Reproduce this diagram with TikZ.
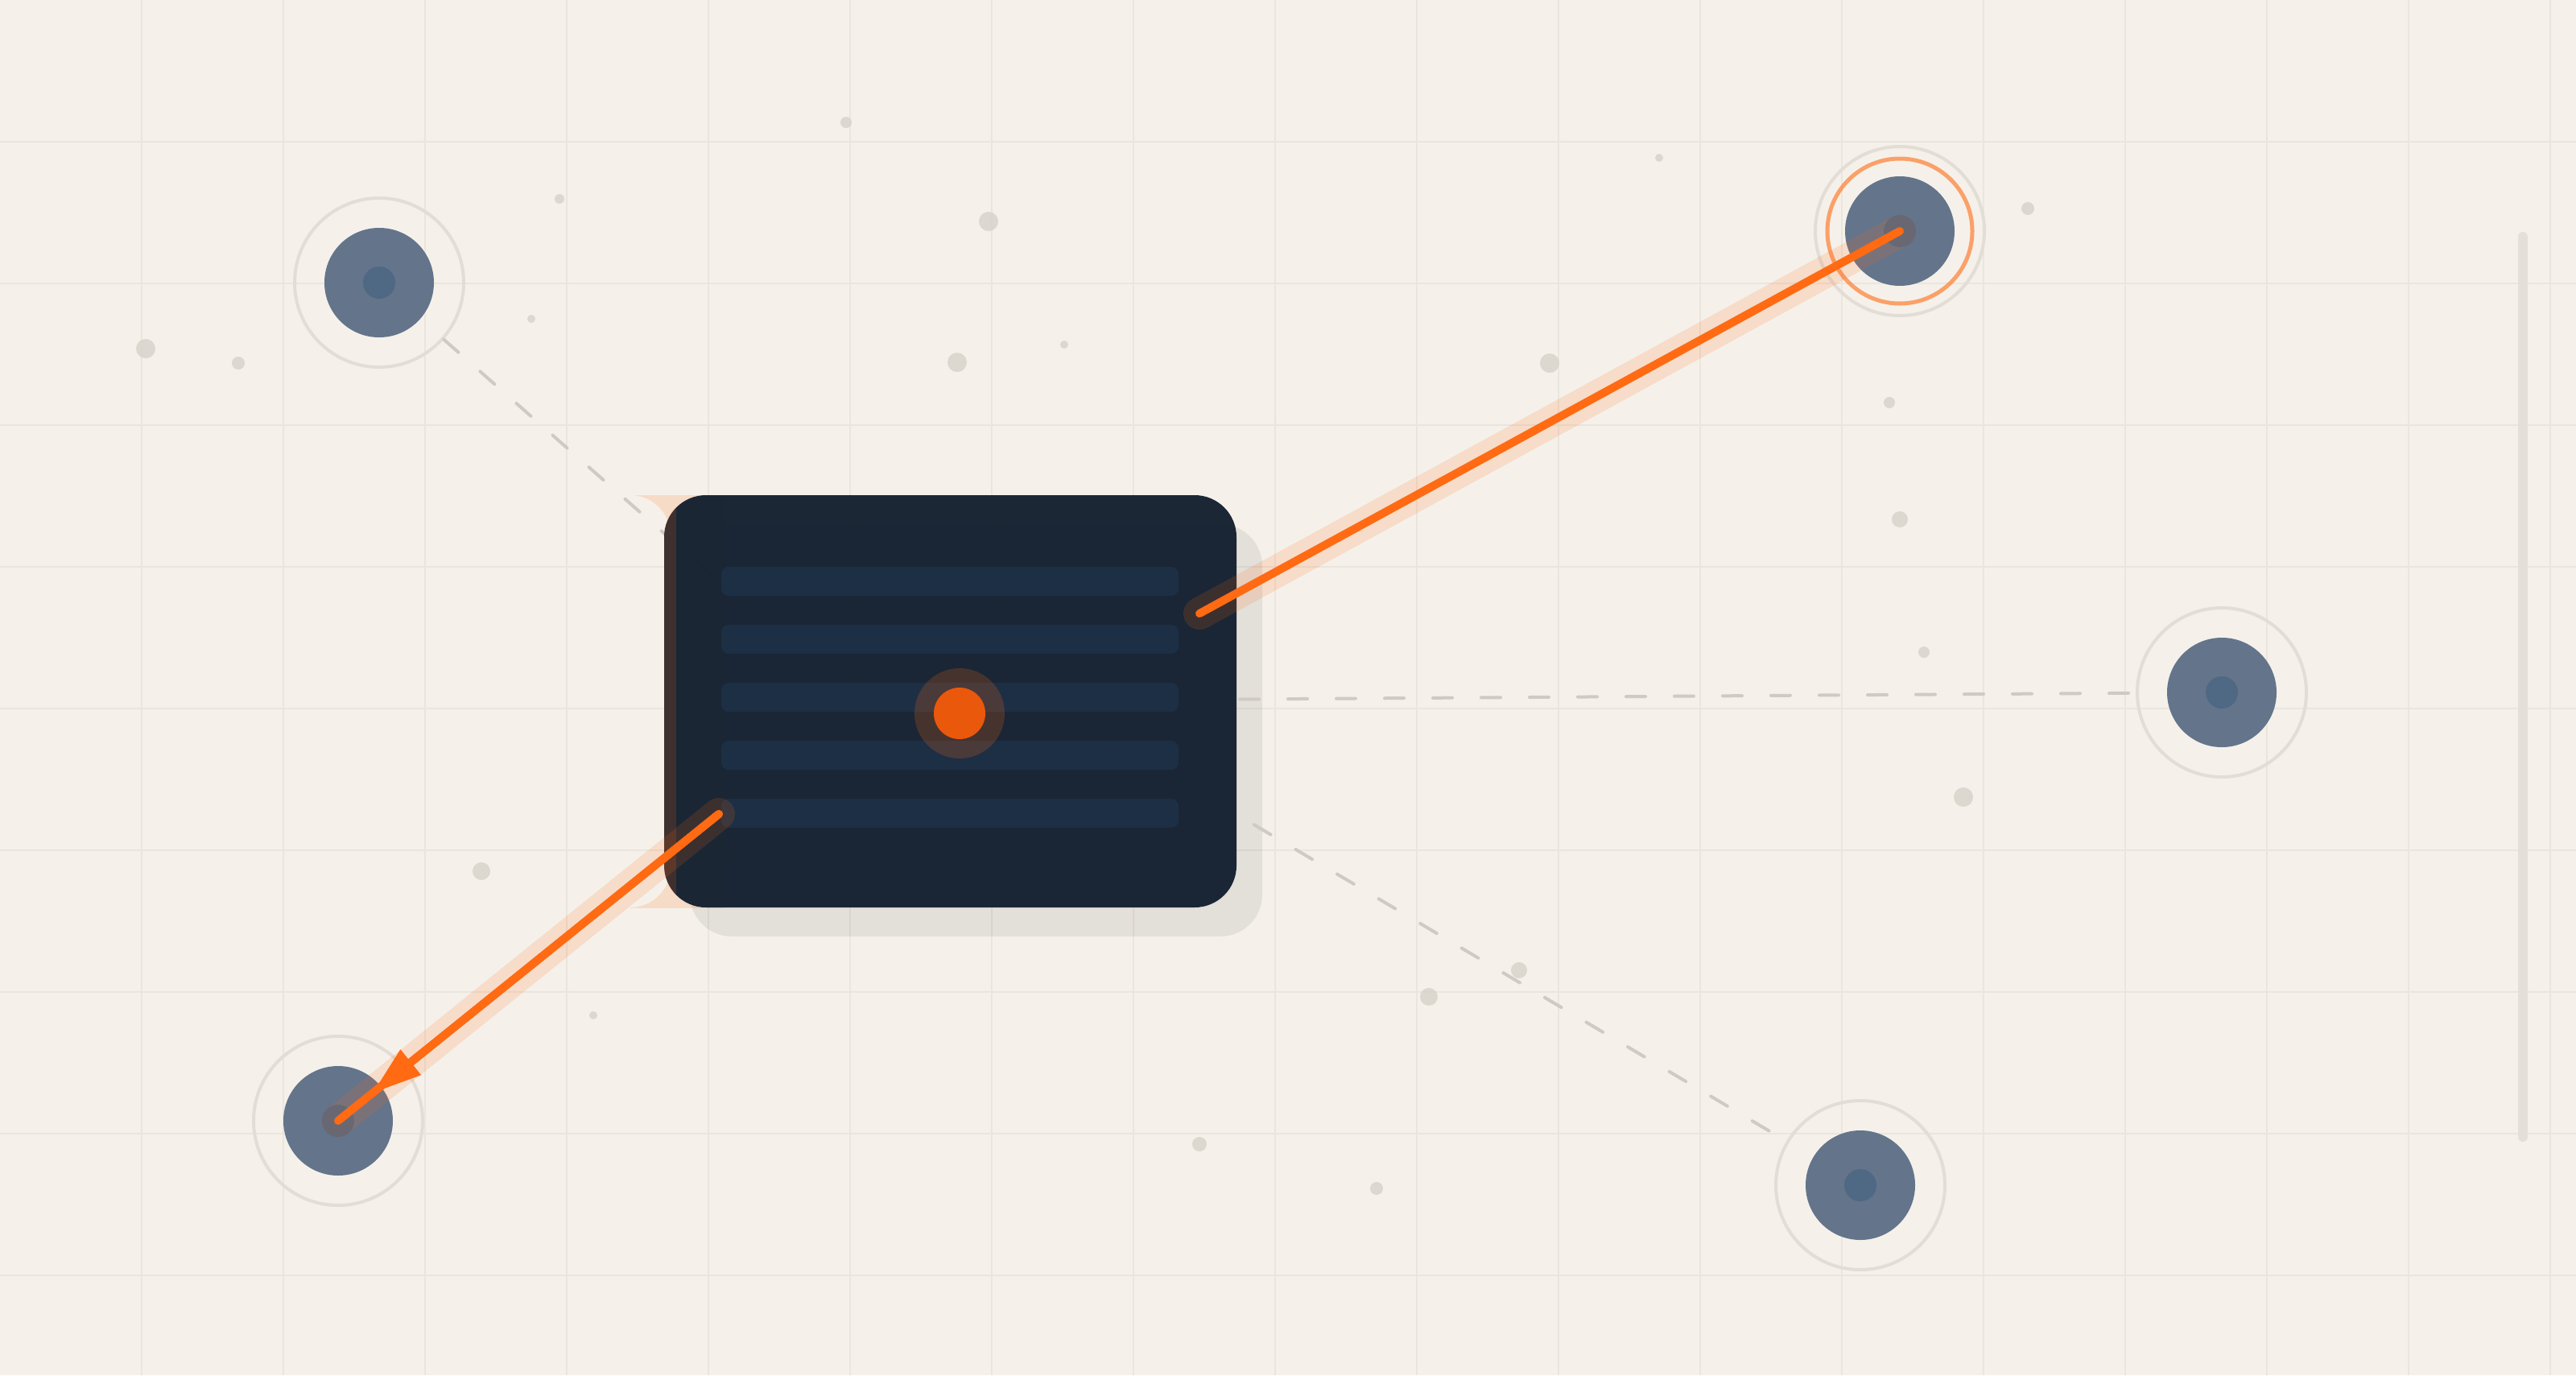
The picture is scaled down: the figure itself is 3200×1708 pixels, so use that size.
\documentclass[tikz,border=0pt]{standalone}
\usetikzlibrary{arrows.meta}

\definecolor{bgcol}{HTML}{F5F1EA}
\definecolor{gridcol}{HTML}{EAE5DD}
\definecolor{dotcol}{HTML}{D6D1C9}
\definecolor{ringcol}{HTML}{E2DDD5}
\definecolor{slate}{HTML}{64748B}
\definecolor{slatecore}{HTML}{4F6883}
\definecolor{cardcol}{HTML}{142130}
\definecolor{barcol}{HTML}{1D2F44}
\definecolor{accent}{HTML}{FF6A13}
\definecolor{hubcol}{HTML}{EA580C}
\definecolor{dashcol}{HTML}{CFCAC3}
\definecolor{sidecol}{HTML}{E4E0D9}

\tikzset{every picture/.style={line width=0.75pt}}
\tikzset{
  ringnode/.style={circle, draw=ringcol, line width=4pt, minimum size=210pt, inner sep=0pt},
  accentring/.style={draw=accent, draw opacity=0.6, line width=5pt},
  cardbox/.style={rectangle, rounded corners=52pt, fill=cardcol, fill opacity=0.97, minimum width=711pt, minimum height=512pt, inner sep=0pt},
  barline/.style={rectangle, rounded corners=9pt, fill=barcol, minimum width=568pt, minimum height=36pt, inner sep=0pt},
  dashline/.style={draw=dashcol, line width=4pt, line cap=round, dash pattern=on 24pt off 36pt},
  glowline/.style={draw=accent, draw opacity=0.15, line width=40pt, line cap=round},
  flowline/.style={draw=accent, line width=10pt, line cap=round},
  speck/.style={fill=dotcol, fill opacity=0.8},
}

\begin{document}
\begin{tikzpicture}[x=1pt,y=1pt,yscale=-1,xscale=1]

\fill [bgcol] (0,0) rectangle (3200,1708);
\useasboundingbox (0,0) rectangle (3200,1708);

\foreach \gx in {176,352,...,3168} \draw [gridcol, line width=2pt] (\gx,0) -- (\gx,1708);
\foreach \gy in {176,352,...,1584} \draw [gridcol, line width=2pt] (0,\gy) -- (3200,\gy);

\foreach \px/\py/\pr in {1051/152/7, 695/247/6, 1228/275/12, 181/433/12, 296/451/8, 660/396/5,
  1189/450/12, 1322/428/5, 2061/196/5, 1925/451/12, 2519/259/8, 2347/500/7, 2360/645/10,
  2390/810/7, 2439/990/12, 598/1082/11, 737/1261/5, 1887/1205/10, 1775/1238/11, 1490/1421/9, 1710/1476/8}
  \fill [speck] (\px,\py) circle (\pr);

\draw [sidecol, line width=12pt, line cap=round] (3134,294) -- (3134,1412);

\node [ringnode] (tl) at (471,351) {};
\node [ringnode] (tr) at (2360,287) {};
\node [ringnode] (rt) at (2760,860) {};
\node [ringnode] (bl) at (420,1392) {};
\node [ringnode] (br) at (2311,1472) {};
\draw [accentring] (tr.center) circle (90);
\foreach \n in {tl,tr,rt,bl,br} {
  \fill [slate] (\n.center) circle (68);
  \fill [slatecore] (\n.center) circle (20);
}

\fill [black, fill opacity=0.07, rounded corners=52pt] (857,651) rectangle (1568,1163);

\coordinate (hubA) at (1020,834);
\coordinate (hubB) at (1180,871);
\coordinate (hubC) at (1300,871);
\draw [dashline] (tl) -- (hubA);
\draw [dashline] (hubB) -- (rt);
\draw [dashline] (hubC) -- (br);

\begin{scope}
  \clip (783,615) rectangle (900,1127);
  \fill [accent, fill opacity=0.16, even odd rule] (700,500) rectangle (1000,1300) [rounded corners=50pt] (600,615) rectangle (833,1127);
\end{scope}

\node [cardbox] (card) at (1180.5,871) {};
\begin{scope}
  \clip [rounded corners=52pt] (card.north west) rectangle (card.south east);
  \fill [accent, fill opacity=0.16] (825,615) rectangle (840,1127);
\end{scope}

\foreach \i in {0,...,4} \node [barline] (bar\i) at (1180,{722+72*\i}) {};

\node [circle, fill=accent, fill opacity=0.2, minimum size=112pt, inner sep=0pt] (hubglow) at (1192,886) {};
\node [circle, fill=hubcol, minimum size=64pt, inner sep=0pt] (hub) at (1192,886) {};

\coordinate (srcA) at (1490,762);
\coordinate (srcB) at (893,1011);
\draw [glowline] (srcA) -- (tr.center);
\draw [glowline] (srcB) -- (bl.center);
\draw [flowline] (srcA) -- (tr.center);
\draw [flowline] (srcB) -- (bl.center);
\draw [flowline, -{Triangle[length=60pt,width=41pt,line width=0pt]}, shorten >=56pt] (srcB) -- (bl.center);

\end{tikzpicture}
\end{document}
